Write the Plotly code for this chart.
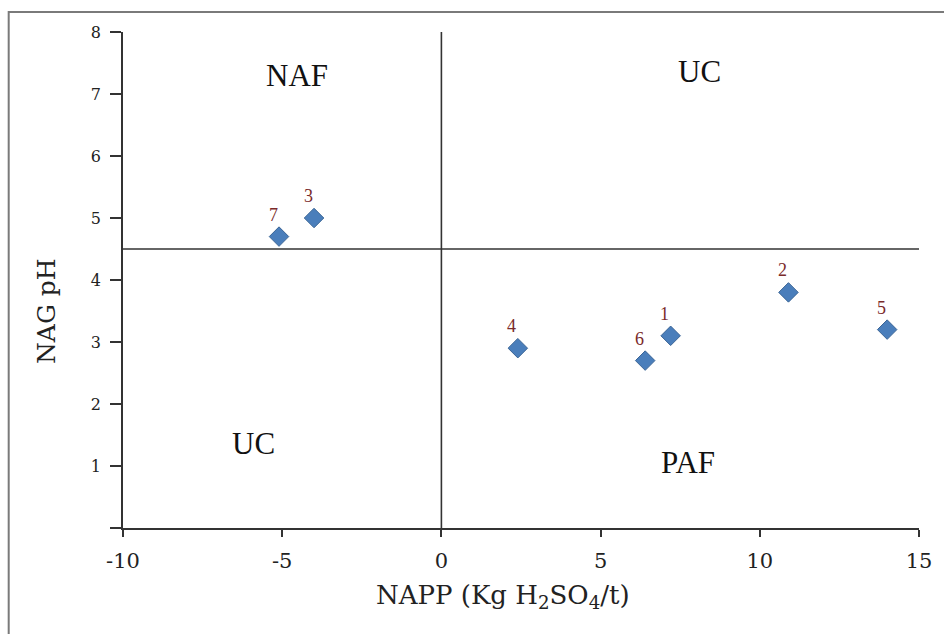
import plotly.graph_objects as go

# Sample positions: net acid producing potential vs NAG pH
sample_ids = ["1", "2", "3", "4", "5", "6", "7"]
napp = [7.2, 10.9, -4.0, 2.4, 14.0, 6.4, -5.1]
nag_ph = [3.1, 3.8, 5.0, 2.9, 3.2, 2.7, 4.7]

# Classification zones
zone_names = ["NAF", "UC", "UC", "PAF"]
zone_x = [-4.55, 8.1, -5.9, 7.75]
zone_y = [7.3, 7.37, 1.37, 1.06]

x_ticks = [-10, -5, 0, 5, 10, 15]
y_ticks = [0, 1, 2, 3, 4, 5, 6, 7, 8]
y_tick_text = ["", "1", "2", "3", "4", "5", "6", "7", "8"]

x_title = "NAPP (Kg H<sub>2</sub>SO<sub>4</sub>/t)"
y_title = "NAG pH"

napp_cutoff = 0
ph_cutoff = 4.5

serif = "Liberation Serif"
wide_serif = "DejaVu Serif"

fig = go.Figure()

fig.add_trace(go.Scatter(
    x=napp, y=nag_ph, mode="markers",
    marker=dict(symbol="diamond", size=15, color="#4A7EBB",
                line=dict(color="#3B6596", width=1)),
    showlegend=False, hoverinfo="skip",
))

# sample number labels
for sid, xv, yv in zip(sample_ids, napp, nag_ph):
    fig.add_annotation(x=xv, y=yv, text=sid, showarrow=False,
                       xshift=-6, yshift=22,
                       font=dict(family=serif, size=18, color="#7A2A2A"))

for name, xv, yv in zip(zone_names, zone_x, zone_y):
    fig.add_annotation(x=xv, y=yv, text=name, showarrow=False,
                       font=dict(family=serif, size=31, color="#111111"))

# axis titles placed as free annotations
fig.add_annotation(xref="paper", yref="paper", x=0.478, y=-0.138,
                   xanchor="center", yanchor="middle",
                   text=x_title, showarrow=False,
                   font=dict(family=wide_serif, size=26, color="#222222"))
fig.add_annotation(xref="paper", yref="paper", x=-0.097, y=0.437,
                   xanchor="center", yanchor="middle",
                   text=y_title, showarrow=False, textangle=-90,
                   font=dict(family=wide_serif, size=25, color="#222222"))

# dividing lines
fig.add_shape(type="line", xref="x", yref="y", x0=napp_cutoff, x1=napp_cutoff,
              y0=0, y1=8, line=dict(color="#333333", width=1.6))
fig.add_shape(type="line", xref="x", yref="y", x0=-10, x1=15.12,
              y0=ph_cutoff, y1=ph_cutoff, line=dict(color="#333333", width=1.6))

# outer frame
fig.add_shape(type="rect", xref="paper", yref="paper",
              x0=-0.1436, x1=1.04, y0=-0.24, y1=1.0403,
              line=dict(color="#7a7a7a", width=2), layer="below")

fig.update_layout(
    width=944, height=634,
    margin=dict(l=123, r=20, t=32, b=106),
    paper_bgcolor="white", plot_bgcolor="white",
    font=dict(family=serif, color="#222222"),
    xaxis=dict(
        range=[-10, 15], tickvals=x_ticks, ticktext=[str(t) for t in x_ticks],
        showgrid=False, zeroline=False, showline=True, linecolor="#333333",
        linewidth=1.6, ticks="outside", ticklen=7, tickwidth=1.6,
        tickcolor="#333333", ticklabelstandoff=6,
        tickfont=dict(family=wide_serif, size=21, color="#222222"),
    ),
    yaxis=dict(
        range=[0, 8], tickvals=y_ticks, ticktext=y_tick_text,
        showgrid=False, zeroline=False, showline=True, linecolor="#333333",
        linewidth=1.6, ticks="outside", ticklen=11, tickwidth=1.6,
        tickcolor="#333333", ticklabelstandoff=6,
        tickfont=dict(family=wide_serif, size=16, color="#222222"),
    ),
)

fig.write_html("out.html")
